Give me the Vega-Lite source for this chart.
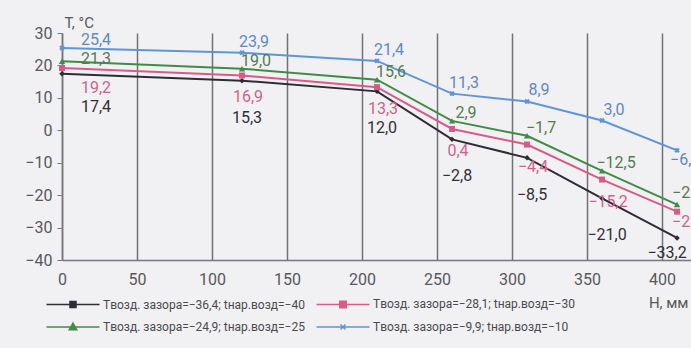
{
  "$schema": "https://vega.github.io/schema/vega-lite/v6.json",
  "autosize": "none",
  "width": 629,
  "height": 227,
  "padding": {"left": 62, "top": 33, "right": 0, "bottom": 88},
  "background": "#f1f1f3",
  "config": {
    "view": {"stroke": null},
    "locale": {"number": {"decimal": ",", "thousands": "\u00a0", "grouping": [3], "currency": ["", " ₽"], "minus": "−"}},
    "text": {"font": "Roboto, Liberation Sans, sans-serif", "fontSize": 16, "align": "center", "baseline": "middle"},
    "axis": {"labelFont": "Roboto, Liberation Sans, sans-serif", "titleFont": "Roboto, Liberation Sans, sans-serif", "labelFontSize": 16, "titleFontSize": 15, "titleFontWeight": "normal", "labelColor": "#58585c", "titleColor": "#58585c", "domainColor": "#76767b", "domainWidth": 1.5, "tickColor": "#76767b", "labelFlush": false, "labelOverlap": false},
    "legend": {
      "labelFont": "Roboto, Liberation Sans, sans-serif", "orient": "none", "direction": "horizontal", "legendX": -15, "legendY": 265, "columns": 2, "title": null,
      "symbolSize": 100, "symbolStrokeWidth": 1.5, "symbolOpacity": 1, "symbolOffset": 20, "labelOffset": 24,
      "labelFontSize": 12, "labelColor": "#4a4a4e", "labelLimit": 400, "rowPadding": 9, "columnPadding": 8
    }
  },
  "data": {
    "values": [
      {"tout": -40, "H": 0, "T": 17.4}, {"tout": -40, "H": 120, "T": 15.3}, {"tout": -40, "H": 210, "T": 12.0}, {"tout": -40, "H": 260, "T": -2.8}, {"tout": -40, "H": 310, "T": -8.5}, {"tout": -40, "H": 360, "T": -21.0}, {"tout": -40, "H": 410, "T": -33.2},
      {"tout": -30, "H": 0, "T": 19.2}, {"tout": -30, "H": 120, "T": 16.9}, {"tout": -30, "H": 210, "T": 13.3}, {"tout": -30, "H": 260, "T": 0.4}, {"tout": -30, "H": 310, "T": -4.4}, {"tout": -30, "H": 360, "T": -15.2}, {"tout": -30, "H": 410, "T": -25.1},
      {"tout": -25, "H": 0, "T": 21.3}, {"tout": -25, "H": 120, "T": 19.0}, {"tout": -25, "H": 210, "T": 15.6}, {"tout": -25, "H": 260, "T": 2.9}, {"tout": -25, "H": 310, "T": -1.7}, {"tout": -25, "H": 360, "T": -12.5}, {"tout": -25, "H": 410, "T": -22.9},
      {"tout": -10, "H": 0, "T": 25.4}, {"tout": -10, "H": 120, "T": 23.9}, {"tout": -10, "H": 210, "T": 21.4}, {"tout": -10, "H": 260, "T": 11.3}, {"tout": -10, "H": 310, "T": 8.9}, {"tout": -10, "H": 360, "T": 3.0}, {"tout": -10, "H": 410, "T": -6.2}
    ]
  },
  "encoding": {
    "x": {
      "field": "H", "type": "quantitative",
      "scale": {"domain": [0, 419.3], "nice": false, "zero": false},
      "axis": {"values": [0, 50, 100, 150, 200, 250, 300, 350, 400], "grid": true, "gridColor": "#707075", "gridWidth": 1.5, "gridOpacity": 1, "ticks": false, "labelPadding": 11, "title": "Н, мм", "titleX": 626, "titleY": 42, "titleAlign": "right", "titleAnchor": null, "titleBaseline": "middle"}
    },
    "y": {
      "field": "T", "type": "quantitative",
      "scale": {"domain": [-40, 30], "nice": false, "zero": false},
      "axis": {"values": [-40, -30, -20, -10, 0, 10, 20, 30], "grid": false, "tickSize": 5, "labelPadding": 5, "title": "T, °C", "titleAngle": 0, "titleX": 2, "titleY": -11, "titleAlign": "left", "titleBaseline": "middle", "titleAnchor": null}
    }
  },
  "layer": [
    {
      "data": {"values": [{"T": 0}, {"T": 30}]},
      "mark": {"type": "rule", "color": "#707075", "strokeWidth": 1.5},
      "encoding": {"x": {"datum": 0}, "x2": {"datum": 419.3}, "y": {"field": "T", "type": "quantitative"}}
    },
    {
      "mark": {"type": "point", "filled": true, "opacity": 0},
      "encoding": {
        "fill": {
          "field": "tout", "type": "nominal",
          "scale": {"domain": [-40, -30, -25, -10], "range": ["#2c2c33", "#d65c86", "#3f8c46", "#5e95da"]},
          "legend": {"labelExpr": "datum.value == -40 ? 'Tвозд. зазора=−36,4; tнар.возд=−40' : datum.value == -30 ? 'Tвозд. зазора=−28,1; tнар.возд=−30' : datum.value == -25 ? 'Tвозд. зазора=−24,9; tнар.возд=−25' : 'Tвозд. зазора=−9,9; tнар.возд=−10'"}
        },
        "stroke": {
          "field": "tout", "type": "nominal",
          "scale": {"domain": [-40, -30, -25, -10], "range": ["#2c2c33", "#d65c86", "#3f8c46", "#5e95da"]},
          "legend": {"labelExpr": "datum.value == -40 ? 'Tвозд. зазора=−36,4; tнар.возд=−40' : datum.value == -30 ? 'Tвозд. зазора=−28,1; tнар.возд=−30' : datum.value == -25 ? 'Tвозд. зазора=−24,9; tнар.возд=−25' : 'Tвозд. зазора=−9,9; tнар.возд=−10'"}
        },
        "shape": {
          "field": "tout", "type": "nominal",
          "scale": {"domain": [-40, -30, -25, -10], "range": [
            "M-5.3,0H5.3M-0.6,-0.6H0.6V0.6H-0.6Z",
            "M-5.3,0H5.3M-0.65,-0.65H0.65V0.65H-0.65Z",
            "M-5.3,0H5.3M0,-0.8L0.75,0.55H-0.75Z",
            "M-5.3,0H5.3M-0.5,-0.5L0.5,0.5M0.5,-0.5L-0.5,0.5"
          ]},
          "legend": {"labelExpr": "datum.value == -40 ? 'Tвозд. зазора=−36,4; tнар.возд=−40' : datum.value == -30 ? 'Tвозд. зазора=−28,1; tнар.возд=−30' : datum.value == -25 ? 'Tвозд. зазора=−24,9; tнар.возд=−25' : 'Tвозд. зазора=−9,9; tнар.возд=−10'"}
        }
      }
    },
    {
      "mark": {"type": "line", "strokeWidth": 2},
      "encoding": {
        "color": {"field": "tout", "type": "nominal", "legend": null, "scale": {"domain": [-40, -30, -25, -10], "range": ["#2c2c33", "#d65c86", "#3f8c46", "#5e95da"]}}
      }
    },
    {"transform": [{"filter": "datum.tout == -40"}], "mark": {"type": "point", "shape": "diamond", "filled": true, "size": 30, "opacity": 1, "color": "#2c2c33"}},
    {"transform": [{"filter": "datum.tout == -30"}], "mark": {"type": "point", "shape": "square", "filled": true, "size": 36, "opacity": 1, "color": "#d65c86"}},
    {"transform": [{"filter": "datum.tout == -25"}], "mark": {"type": "point", "shape": "triangle-up", "filled": true, "size": 40, "opacity": 1, "color": "#3f8c46"}},
    {"transform": [{"filter": "datum.tout == -10"}], "mark": {"type": "point", "shape": "cross", "angle": 45, "filled": true, "size": 30, "opacity": 1, "color": "#5e95da"}},
    {"transform": [{"filter": "datum.H == 0 && datum.tout == -10"}], "mark": {"type": "text", "dx": 34, "dy": -8, "fill": "#5f88c8"}, "encoding": {"text": {"field": "T", "type": "quantitative", "format": ".1f"}}},
    {"transform": [{"filter": "datum.H == 0 && datum.tout == -25"}], "mark": {"type": "text", "dx": 34, "dy": -2, "fill": "#527d4f"}, "encoding": {"text": {"field": "T", "type": "quantitative", "format": ".1f"}}},
    {"transform": [{"filter": "datum.H == 0 && datum.tout == -30"}], "mark": {"type": "text", "dx": 34, "dy": 20, "fill": "#d2618a"}, "encoding": {"text": {"field": "T", "type": "quantitative", "format": ".1f"}}},
    {"transform": [{"filter": "datum.H == 0 && datum.tout == -40"}], "mark": {"type": "text", "dx": 34, "dy": 33, "fill": "#303034"}, "encoding": {"text": {"field": "T", "type": "quantitative", "format": ".1f"}}},
    {"transform": [{"filter": "datum.H > 0 && datum.H < 400 && datum.tout == -10"}], "mark": {"type": "text", "dx": 12, "dy": -11, "fill": "#5f88c8"}, "encoding": {"text": {"field": "T", "type": "quantitative", "format": ".1f"}}},
    {"transform": [{"filter": "datum.H > 0 && datum.H < 400 && datum.tout == -25"}], "mark": {"type": "text", "dx": 14, "dy": -8, "fill": "#527d4f"}, "encoding": {"text": {"field": "T", "type": "quantitative", "format": ".1f"}}},
    {"transform": [{"filter": "datum.H > 0 && datum.H < 400 && datum.tout == -30"}], "mark": {"type": "text", "dx": 6, "dy": 22, "fill": "#d2618a"}, "encoding": {"text": {"field": "T", "type": "quantitative", "format": ".1f"}}},
    {"transform": [{"filter": "datum.H > 0 && datum.H < 400 && datum.tout == -40"}], "mark": {"type": "text", "dx": 5, "dy": 37, "fill": "#303034"}, "encoding": {"text": {"field": "T", "type": "quantitative", "format": ".1f"}}},
    {"transform": [{"filter": "datum.H > 400 && datum.tout == -10"}], "mark": {"type": "text", "align": "left", "dx": -7, "dy": 10, "fill": "#5f88c8"}, "encoding": {"text": {"field": "T", "type": "quantitative", "format": ".1f"}}},
    {"transform": [{"filter": "datum.H > 400 && datum.tout == -25"}], "mark": {"type": "text", "align": "left", "dx": -5, "dy": -12, "fill": "#527d4f"}, "encoding": {"text": {"field": "T", "type": "quantitative", "format": ".1f"}}},
    {"transform": [{"filter": "datum.H > 400 && datum.tout == -30"}], "mark": {"type": "text", "align": "left", "dx": -5, "dy": 10, "fill": "#d2618a"}, "encoding": {"text": {"field": "T", "type": "quantitative", "format": ".1f"}}},
    {"transform": [{"filter": "datum.H > 400 && datum.tout == -40"}], "mark": {"type": "text", "dx": -10, "dy": 15, "fill": "#303034"}, "encoding": {"text": {"field": "T", "type": "quantitative", "format": ".1f"}}}
  ]
}
